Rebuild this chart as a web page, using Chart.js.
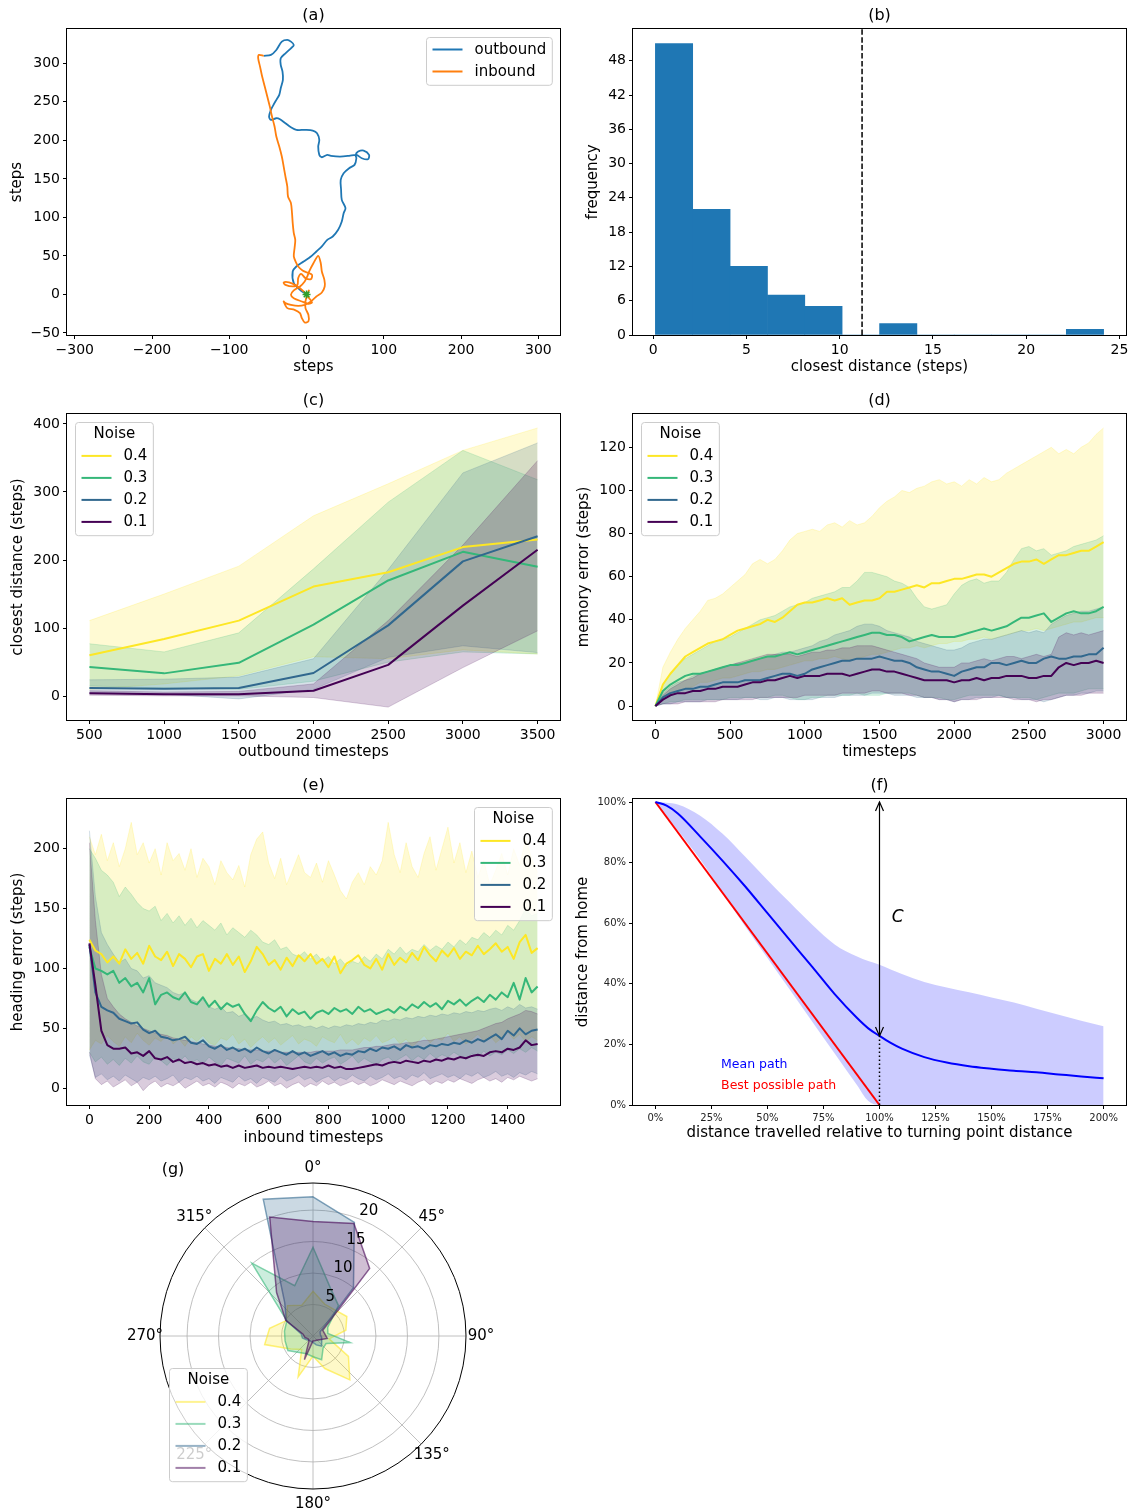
<!DOCTYPE html>
<html>
<head>
<meta charset="utf-8">
<script src="https://cdn.jsdelivr.net/npm/chart.js@4.4.1/dist/chart.umd.min.js"></script>
<style>
  html, body { margin: 0; padding: 0; background: #fff; }
  #fig { position: relative; width: 1134px; height: 1512px; background: #fff; }
  #fig canvas { position: absolute; }
</style>
</head>
<body>
<div id="fig">
  <canvas id="ca" width="567" height="385" style="left:0;top:0;width:567px;height:385px"></canvas>
  <canvas id="cb" width="567" height="385" style="left:567px;top:0;width:567px;height:385px"></canvas>
  <canvas id="cc" width="567" height="385" style="left:0;top:385px;width:567px;height:385px"></canvas>
  <canvas id="cd" width="567" height="385" style="left:567px;top:385px;width:567px;height:385px"></canvas>
  <canvas id="ce" width="567" height="385" style="left:0;top:770px;width:567px;height:385px"></canvas>
  <canvas id="cf" width="567" height="385" style="left:567px;top:770px;width:567px;height:385px"></canvas>
  <canvas id="cg" width="386" height="362" style="left:120px;top:1150px;width:386px;height:362px"></canvas>
</div>
<script>
// ---------------- (a) one foraging trip ----------------
const outboundX = [0,-8.5,-16.5,-17.9,-13.2,-3.8,5.6,12.7,19.8,26.8,33.9,40.9,45.6,48.0,50.4,45.6,44.7,44.2,48.0,55.1,
  62.1,64.5,63.5,66.8,73.9,80.9,79.5,71.5,64.5,55.1,43.3,31.5,26.8,19.8,16.5,15.1,16.5,13.6,8.0,-1.4,
  -13.2,-20.2,-27.3,-34.4,-39.1,-46.1,-48.5,-46.1,-42.8,-39.1,-35.3,-33.4,-30.6,-31.1,-33.4,-33.4,-27.3,-20.2,-16.5,-20.2,
  -24.9,-32.0,-39.1,-46.1,-55.5];
const outboundY = [0,6.1,14.7,29.8,36.3,42.8,49.3,55.8,62.3,70.9,75.2,83.9,94.7,105.5,112.0,122.8,135.8,148.7,157.4,163.9,
  168.2,176.8,181.1,185.5,186.8,181.1,175.5,176.8,181.1,179.9,179.0,179.9,181.1,178.1,181.1,192.0,200.6,209.3,212.7,213.6,
  213.6,217.0,222.2,227.4,228.7,226.5,230.9,239.5,246.0,252.5,259.0,267.6,278.4,289.2,297.9,306.5,313.0,319.5,323.8,328.1,
  330.3,328.1,317.3,310.9,309.6];
const inboundX = [-55.5,-61.6,-62.6,-60.2,-57.9,-54.1,-50.8,-47.5,-44.7,-41.4,-39.1,-35.3,-32.0,-29.6,-27.3,-24.9,-24.0,-20.2,-18.8,-17.9,
  -16.5,-14.6,-15.5,-16.5,-13.2,-10.8,-5.2,0.9,7.1,5.6,-1.4,-7.1,-10.8,-11.8,-17.9,-27.3,-29.6,-22.6,-13.2,-3.8,
  3.3,7.1,2.4,-6.1,-16.5,-20.2,-16.5,-8.5,-2.4,0.9,3.3,8.9,15.1,18.4,19.8,23.1,23.5,19.8,12.7,5.6,
  -2.4,-10.8,-20.2,-27.3,-29.6,-24.9,-15.5,-8.5,-6.1,-2.4,2.4,2.4,-1.4,-1.4,0.9,3.3];
const inboundY = [309.6,310.9,306.5,295.7,284.9,269.8,256.8,243.8,230.9,217.9,204.9,192.0,179.0,166.0,153.0,140.1,127.1,118.5,105.5,92.5,
  79.5,70.9,60.1,49.3,40.6,36.3,31.1,28.5,25.5,19.9,21.2,26.8,21.2,12.5,10.4,12.5,15.6,15.6,11.2,3.9,
  -4.8,-10.4,-12.1,-9.1,-4.8,-0.4,5.2,10.4,16.9,23.3,29.8,40.6,50.2,40.6,29.8,19.0,10.4,2.6,-2.6,-9.1,
  -13.4,-14.7,-13.4,-11.2,-9.1,-17.7,-19.9,-24.2,-30.7,-36.3,-35.0,-26.4,-17.7,-9.1,-0.4,6.1];
const homeX = 0, homeY = 0;
const aTicksX = [-300,-200,-100,0,100,200,300];
const aTicksY = [-50,0,50,100,150,200,250,300];

// ---------------- (b) closest approach histogram ----------------
const histEdges = [0.12,2.12,4.13,6.13,8.13,10.13,12.14,14.14,16.14,18.14,20.15,22.15,24.15];
const histCounts = [51,22,12,7,5,0,2,0,0,0,0,1];
const histThreshold = 11.2;
const bTicksX = [0,5,10,15,20,25];
const bTicksY = [0,6,12,18,24,30,36,42,48];

// ---------------- (c) closest distance vs outbound length ----------------
const cSteps = [500,1000,1500,2000,2500,3000,3500];
const c04Mean = [60,84,111,161,182,219,230];
const c04Up   = [111,150,191,265,312,361,394];
const c04Lo   = [10,18,30,58,55,68,62];
const c03Mean = [43,33.5,49,105,170,212,190];
const c03Up   = [77,65,93,187,285,361,318];
const c03Lo   = [15,12,10,22,50,65,62];
const c02Mean = [12,11,12,34,104,198,235];
const c02Up   = [24,25,28,55,186,328,372];
const c02Lo   = [5,3,-4,10,57,74,64];
const c01Mean = [4.4,3,3,8,46,133,215];
const c01Up   = [8,6,7,18,111,222,346];
const c01Lo   = [1.5,0.5,0.5,-2,-16,42,96];
const cTicksX = [500,1000,1500,2000,2500,3000,3500];
const cTicksY = [0,100,200,300,400];

// ---------------- (d) memory error over the outbound route ----------------
const dSteps = [0,50,100,150,200,250,300,350,400,450,
  500,550,600,650,700,750,800,850,900,950,
  1000,1050,1100,1150,1200,1250,1300,1350,1400,1450,
  1500,1550,1600,1650,1700,1750,1800,1850,1900,1950,
  2000,2050,2100,2150,2200,2250,2300,2350,2400,2450,
  2500,2550,2600,2650,2700,2750,2800,2850,2900,2950,3000];
const d04Mean = [0,10,15,19,23,25,27,29,30,31, 33,35,36,37,38,40,39,41,44,47, 48,48,49,50,49,50,47,48,49,49,
  50,53,53,54,55,56,55,57,57,58, 59,59,60,61,61,60,62,64,66,67, 67,68,66,68,70,70,71,72,72,74, 76];
const d04Up = [0,18,25,31,36,40,44,49,50,52, 55,58,61,66,68,66,68,72,77,80, 81,82,81,84,85,83,86,84,85,88,
  92,95,97,100,99,101,102,104,105,103, 104,102,105,103,106,104,105,108,110,112, 114,116,118,120,117,119,117,120,122,126, 129];
const d04Lo = [0,4,6,7,8,9,11,11,12,13, 13,14,15,16,16,17,17,18,19,20, 21,21,22,22,23,22,21,22,23,24,
  24,25,26,27,27,28,27,28,29,29, 30,30,31,31,32,31,32,33,34,35, 35,36,35,36,37,38,39,39,40,41, 41];
const d03Mean = [0,7,10,12,14,15,15,16,17,18, 19,19,20,21,22,23,23,24,25,24, 25,26,27,28,29,30,31,32,33,34,
  34,33,33,32,30,31,32,33,32,32, 32,33,34,35,36,35,36,37,39,41, 41,42,43,39,41,43,44,43,43,44, 46];
const d03Up = [0,10,15,19,22,24,26,28,30,31, 32,34,36,38,40,41,42,44,46,47, 48,50,51,52,53,55,55,58,62,62,
  61,60,58,57,55,50,46,45,46,47, 52,56,58,59,57,58,58,62,68,73, 74,72,73,70,71,72,74,75,76,77, 79];
const d03Lo = [0,1,2,2,3,3,3,3,3,3, 4,4,4,4,4,4,5,5,4,3, 3,4,4,5,5,5,5,6,5,5,
  5,6,6,6,6,5,4,4,4,3, 3,4,5,5,5,5,5,4,4,4, 4,3,4,5,6,6,6,7,8,8, 8];
const d02Mean = [0,4,6,7,8,8,9,9,10,11, 11,11,12,12,12,13,14,15,15,14, 15,17,18,19,20,21,21,22,22,22,
  23,22,21,21,20,18,17,16,16,15, 14,16,17,18,18,20,20,19,20,21, 20,20,22,23,22,22,23,23,24,24, 27];
const d02Up = [0,6,9,11,12,14,15,16,17,18, 19,20,20,21,22,23,24,25,25,26, 27,28,30,31,33,34,35,37,38,38,
  37,35,34,33,32,30,29,28,27,26, 26,27,29,30,31,31,32,33,34,35, 34,35,34,38,40,42,43,44,44,45, 46];
const d02Lo = [0,1,1,2,2,2,2,3,3,3, 3,3,4,4,3,3,4,4,3,3, 3,3,4,4,4,5,5,5,5,6,
  6,6,5,5,5,4,4,4,3,3, 2,3,3,4,4,4,5,4,4,3, 3,3,2,3,4,5,5,6,6,7, 7];
const d01Mean = [0,3,5,6,6,7,7,8,8,9, 9,9,10,11,11,12,12,13,14,13, 14,14,14,15,15,15,14,15,16,17,
  17,16,16,15,14,13,12,12,12,12, 11,12,12,13,12,13,13,14,14,14, 13,13,14,14,18,20,19,20,20,21, 20];
const d01Up = [0,5,8,10,12,13,15,16,17,18, 19,20,21,22,23,24,24,24,24,23, 24,25,25,26,26,27,27,28,28,28,
  27,26,25,24,23,22,20,19,18,18, 18,20,20,21,22,21,22,23,23,22, 23,24,23,24,32,34,33,34,33,34, 35];
const d01Lo = [0,1,1,1,2,2,2,2,2,3, 3,3,3,3,4,4,4,4,4,4, 5,5,5,5,5,6,6,6,6,7,
  7,6,6,6,5,5,4,4,3,3, 2,3,3,3,4,4,4,4,3,3, 3,2,3,3,4,5,5,5,6,6, 6];
const dTicksX = [0,500,1000,1500,2000,2500,3000];
const dTicksY = [0,20,40,60,80,100,120];

// ---------------- (e) heading error on the inbound route ----------------
const eSteps = [0,20,40,60,80,100,120,140,160,180,
  200,220,240,260,280,300,320,340,360,380,
  400,420,440,460,480,500,520,540,560,580,
  600,620,640,660,680,700,720,740,760,780,
  800,820,840,860,880,900,920,940,960,980,
  1000,1020,1040,1060,1080,1100,1120,1140,1160,1180,
  1200,1220,1240,1260,1280,1300,1320,1340,1360,1380,
  1400,1420,1440,1460,1480,1500];
const e04Mean = [124,115,112,105,110,104,116,108,113,104, 119,110,107,114,102,112,108,101,110,112,
  98,108,104,112,103,110,97,106,118,112, 103,107,99,109,102,111,106,112,104,108,
  101,110,96,104,107,111,103,100,108,99, 112,103,109,105,113,107,118,111,106,115,
  110,117,108,114,111,119,112,116,121,114, 118,108,122,128,113,117];
const e04Up = [210,195,212,190,205,185,200,222,195,205, 188,200,178,205,190,196,182,200,176,192,
  185,170,190,180,174,186,168,195,208,214, 188,175,192,170,182,195,180,176,188,172,
  190,178,165,158,172,180,170,185,178,190, 222,195,180,205,185,176,196,210,182,200,
  218,188,205,180,198,176,190,170,182,196, 178,200,186,208,192,180];
const e04Lo = [32,40,37,44,39,35,43,38,46,40, 36,42,39,45,37,41,35,43,39,44,
  38,36,42,40,45,37,41,34,39,43, 38,42,36,40,44,37,41,39,35,43,
  40,38,45,37,41,36,42,39,44,38, 40,43,37,41,35,39,44,38,42,40,
  46,39,43,37,41,45,40,44,38,42, 47,41,45,39,43,40];
const e03Mean = [118,100,98,95,98,88,92,85,88,80, 92,70,78,80,76,74,80,72,70,76,
  68,73,66,71,68,70,62,56,65,72, 67,64,68,60,66,62,64,58,63,65,
  62,67,64,66,62,68,64,66,62,64, 66,63,68,65,70,67,72,68,71,66,
  73,70,74,69,73,76,72,78,74,80, 76,88,74,92,80,85];
const e03Up = [200,192,182,178,172,160,168,162,155,150, 148,152,140,146,138,144,136,142,134,140,
  136,132,138,128,134,130,126,132,128,122, 120,124,116,118,112,110,114,108,112,106,
  110,104,108,102,106,104,110,106,112,108, 116,112,118,112,116,114,120,115,119,116,
  122,118,124,120,126,124,130,126,132,128, 136,132,140,150,144,146];
const e03Lo = [30,22,26,20,24,19,25,21,27,22, 20,26,23,19,25,22,27,21,24,20,
  26,22,19,25,23,21,27,20,24,22, 26,21,25,19,23,27,22,20,25,21,
  24,26,20,23,27,21,25,22,19,24, 26,22,25,28,23,27,24,29,25,28,
  26,30,27,24,29,26,31,27,30,28, 32,29,33,30,34,31];
const e02Mean = [120,80,68,65,63,58,56,54,55,49, 46,48,43,42,40,41,43,38,37,40,
  35,33,36,32,34,31,33,30,34,31, 29,32,30,28,31,28,30,27,29,31,
  28,30,27,29,28,31,30,33,31,34, 33,35,32,36,34,35,33,36,35,37,
  36,38,37,40,38,41,39,42,45,41, 48,44,50,45,48,49];
const e02Up = [215,160,130,120,112,105,108,100,98,92, 94,88,86,84,80,78,80,74,72,74,
  68,66,68,63,64,60,62,58,60,57, 55,56,53,54,52,53,51,52,50,52,
  50,52,51,53,52,54,53,55,54,57, 56,58,57,59,58,60,59,61,60,62,
  61,63,62,64,63,65,64,66,67,65, 68,66,70,67,68,66];
const e02Lo = [28,9,12,7,10,6,11,8,5,9, 7,10,6,8,11,5,9,7,10,6,
  8,4,9,7,5,10,6,8,4,9, 7,5,10,6,8,11,7,9,5,8,
  10,6,9,7,11,8,6,10,7,9, 12,8,10,7,11,9,13,8,10,12,
  9,11,8,12,10,13,9,11,14,10, 12,9,13,11,14,12];
const e01Mean = [121,86,48,36,33,33,34,29,30,27, 31,25,24,26,22,24,21,22,20,21,
  19,20,18,19,17,19,17,18,19,17, 18,17,18,17,16,17,18,17,18,17,
  19,17,18,16,16,17,18,19,20,19, 21,22,21,23,22,21,23,22,24,23,
  25,24,26,25,27,28,27,30,31,30, 33,32,34,40,36,37];
const e01Up = [205,140,95,75,68,62,58,55,52,50, 48,46,45,44,42,41,40,39,38,37,
  36,35,35,34,33,33,32,32,32,31, 31,31,30,30,30,30,30,30,31,31,
  31,31,32,32,32,33,34,34,35,35, 36,37,37,38,38,39,40,40,41,42,
  43,44,45,46,47,48,50,52,54,55, 58,60,62,65,64,62];
const e01Lo = [30,8,3,6,1,4,7,2,5,-2, 3,6,1,4,2,5,0,3,6,2,
  4,1,5,3,0,4,2,5,1,3, 6,2,4,0,3,5,1,4,2,6,
  3,5,2,4,6,3,5,2,4,7, 5,3,6,4,2,5,7,3,6,4,
  7,5,8,6,4,7,9,6,8,5, 9,7,10,8,6,8];
const eTicksX = [0,200,400,600,800,1000,1200,1400];
const eTicksY = [0,50,100,150,200];

// ---------------- (f) distance from home along the return ----------------
const fTravel = [0,5,10,20,30,40,50,60,70,80,90,95,100,105,110,120,130,140,150,160,170,180,190,200];
const fMean   = [100,98.8,96.2,88.6,80.6,72.2,63.3,54.4,45.6,36.6,28.7,25.3,22.8,20.5,18.6,15.8,14.0,12.8,12.0,11.3,10.8,10.1,9.4,8.8];
const fUpper  = [100,99.8,99.2,95.5,89.5,82,74.3,66.8,59.5,53,49,47.5,46.3,44.7,43.2,40.6,38.8,37.2,35.5,33.8,31.8,29.8,27.8,26];
const fLower  = [100,95.2,90.6,81,70,59,48.5,38,27.5,17,6.5,1.3,0,0,0,0,0,0,0,0,0,0,0,0];
const bestTravel = [0,100];
const bestDist   = [100,0];
const turnPoint = 100;
const fTicksX = [0,25,50,75,100,125,150,175,200];
const fTicksY = [0,20,40,60,80,100];

// ---------------- (g) heading distribution ----------------
const polarLabels = ['0°','20°','40°','60°','80°','100°','120°','140°','160°','180°','200°','220°','240°','260°','280°','300°','320°','340°'];
const g04 = [7.1,5.4,5.4,6.2,5.3,2.6,6.5,9.1,5.5,3.2,6.9,2.8,4.1,7.8,7.0,4.9,6.3,5.2];
const g03 = [14.1,8.1,6.3,2.7,2.4,6.0,2.4,2.5,4.0,3.3,3.0,3.4,4.6,4.5,4.6,4.8,15.1,8.5];
const g02 = [22.1,19.2,10.0,1.3,1.2,1.4,1.6,2.1,1.5,1.0,0.9,0.9,1.2,1.7,1.9,4.9,7.0,23.1];
const g01 = [18.2,19.0,14.0,1.8,1.9,2.3,1.2,0.9,0.8,0.8,4.0,1.0,0.9,1.3,1.6,5.0,9.0,20.1];
const angleTicks = [0,45,90,135,180,225,270,315];

const noiseLevels = ['0.4','0.3','0.2','0.1'];
const noiseColors = ['#fde725','#35b779','#31688e','#440154'];

// ---------------- helpers ----------------
const FONT = "'DejaVu Sans', 'Liberation Sans', sans-serif";
Chart.defaults.font.family = FONT;
Chart.defaults.color = '#000';

function rgba(hex, a) {
  const n = parseInt(hex.slice(1), 16);
  return 'rgba(' + ((n >> 16) & 255) + ',' + ((n >> 8) & 255) + ',' + (n & 255) + ',' + a + ')';
}
function pts(xs, ys) { return xs.map((x, i) => ({ x: x, y: ys[i] })); }
function signed(v) { return (v < 0 ? '\u2212' : '') + Math.abs(v); }
function pct(v) { return v + '%'; }

function axis(o) {
  return {
    type: 'linear', min: o.min, max: o.max,
    offset: false,
    afterBuildTicks: s => { s.ticks = o.ticks.map(v => ({ value: v })); },
    afterFit: s => { if (s.isHorizontal()) s.height = o.size; else s.width = o.size; },
    border: { display: false },
    grid: { display: true, offset: false, drawOnChartArea: false, drawTicks: true, tickLength: 4, tickWidth: 1, color: '#000' },
    ticks: { autoSkip: false, maxRotation: 0, minRotation: 0, padding: 3,
             color: o.tickColor || '#000', font: { size: o.tick || 14 }, callback: o.fmt || signed },
    title: { display: true, text: o.title, color: '#000', font: { size: 15 }, padding: { top: o.tp, bottom: o.tp } }
  };
}

function baseOptions(pad, scales, plugins) {
  return {
    responsive: false, animation: false, devicePixelRatio: 1, events: [],
    layout: { autoPadding: false, padding: pad },
    scales: scales,
    elements: { point: { radius: 0 }, line: { borderJoinStyle: 'round' } },
    plugins: Object.assign({ legend: { display: false }, tooltip: { enabled: false } }, plugins)
  };
}

// mean line plus shaded spread for each noise level; the first level sits lowest
function bandSets(xs, levels) {
  const sets = [];
  levels.forEach((lv, k) => {
    const ord = levels.length - k;
    const base = sets.length;
    sets.push({ data: pts(xs, lv.up), fill: base + 1, backgroundColor: rgba(lv.color, 0.2),
                borderColor: rgba(lv.color, 0.2), borderWidth: 1, order: ord + 10 });
    sets.push({ data: pts(xs, lv.lo), fill: false, borderColor: rgba(lv.color, 0.2), borderWidth: 1, order: ord + 10 });
    sets.push({ data: pts(xs, lv.mean), fill: false, borderColor: lv.color, borderWidth: 2, order: ord });
  });
  return sets;
}

const noiseItems = noiseLevels.map((l, i) => ({ label: l, color: noiseColors[i] }));

// ---------------- plugins ----------------
const frame = {
  id: 'frame',
  afterDatasetsDraw(chart) {
    if (chart.config.type === 'radar') return;
    const ctx = chart.ctx, a = chart.chartArea;
    ctx.save();
    ctx.strokeStyle = '#000'; ctx.lineWidth = 1;
    ctx.strokeRect(Math.round(a.left) - 0.5, Math.round(a.top) - 0.5, Math.round(a.right - a.left) + 1, Math.round(a.bottom - a.top) + 1);
    ctx.restore();
  }
};

const ptitle = {
  id: 'ptitle',
  afterDraw(chart, args, o) {
    if (!o || !o.text) return;
    const ctx = chart.ctx, a = chart.chartArea;
    ctx.save();
    ctx.font = '16px ' + FONT; ctx.fillStyle = '#000';
    ctx.textAlign = 'center'; ctx.textBaseline = 'middle';
    const x = (o.x !== undefined) ? o.x : (a.left + a.right) / 2;
    const y = (o.y !== undefined) ? o.y : a.top - 13;
    ctx.fillText(o.text, x, y);
    ctx.restore();
  }
};

const mplLegend = {
  id: 'mplLegend',
  afterDraw(chart, args, o) {
    if (!o || !o.items || !o.items.length) return;
    const ctx = chart.ctx, a = chart.chartArea, row = 22;
    ctx.save();
    ctx.font = '15px ' + FONT;
    let tw = 0;
    o.items.forEach(it => { tw = Math.max(tw, ctx.measureText(it.label).width); });
    const w = Math.max(48 + tw + 6, o.title ? ctx.measureText(o.title).width + 12 : 0);
    const first = o.title ? 33.4 : 12;
    const h = first + row * (o.items.length - 1) + 13.8;
    let left, top;
    if (o.loc === 'abs') { left = o.x; top = o.y; }
    else { top = a.top + 8; left = (o.loc === 'ur') ? a.right - 8 - w : a.left + 8; }
    left = Math.round(left) + 0.5; top = Math.round(top) + 0.5;
    const r = 3;
    ctx.beginPath();
    ctx.moveTo(left + r, top);
    ctx.lineTo(left + w - r, top); ctx.arcTo(left + w, top, left + w, top + r, r);
    ctx.lineTo(left + w, top + h - r); ctx.arcTo(left + w, top + h, left + w - r, top + h, r);
    ctx.lineTo(left + r, top + h); ctx.arcTo(left, top + h, left, top + h - r, r);
    ctx.lineTo(left, top + r); ctx.arcTo(left, top, left + r, top, r);
    ctx.closePath();
    ctx.fillStyle = 'rgba(255,255,255,0.8)'; ctx.fill();
    ctx.strokeStyle = '#cccccc'; ctx.lineWidth = 1; ctx.stroke();
    ctx.textBaseline = 'middle'; ctx.fillStyle = '#000';
    if (o.title) { ctx.textAlign = 'center'; ctx.fillText(o.title, left + w / 2, top + 11.5); }
    ctx.textAlign = 'left';
    o.items.forEach((it, i) => {
      const y = top + first + row * i;
      ctx.strokeStyle = rgba(it.color, o.alpha || 1); ctx.lineWidth = 2;
      ctx.beginPath(); ctx.moveTo(left + 6, y); ctx.lineTo(left + 36, y); ctx.stroke();
      ctx.fillStyle = '#000';
      ctx.fillText(it.label, left + 48, y + 0.5);
    });
    ctx.restore();
  }
};

Chart.register(frame, ptitle, mplLegend);

const LEFT = { top: 29, right: 7, bottom: 0, left: 0 };
const RIGHT = { top: 29, right: 8, bottom: 0, left: 0 };

// ---------------- (a) ----------------
new Chart(document.getElementById('ca'), {
  type: 'line',
  data: { datasets: [
    { label: 'outbound', data: pts(outboundX, outboundY), borderColor: '#1f77b4', borderWidth: 1.8, tension: 0.3, order: 2 },
    { label: 'inbound', data: pts(inboundX, inboundY), borderColor: '#ff7f0e', borderWidth: 1.8, tension: 0.3, order: 1 },
    { label: 'home', data: [{ x: homeX, y: homeY }], showLine: false, pointStyle: 'star', pointRadius: 4,
      borderColor: '#2ca02c', borderWidth: 1.5, order: 0 }
  ]},
  options: baseOptions(LEFT, {
    x: axis({ min: -310, max: 328, ticks: aTicksX, size: 50, title: 'steps', tp: 9 }),
    y: axis({ min: -52.6, max: 344.5, ticks: aTicksY, size: 67, title: 'steps', tp: 8 })
  }, {
    ptitle: { text: '(a)' },
    mplLegend: { loc: 'ur', items: [{ label: 'outbound', color: '#1f77b4' }, { label: 'inbound', color: '#ff7f0e' }] }
  })
});

// ---------------- (b) ----------------
const thresholdLine = {
  id: 'thresholdLine',
  afterDatasetsDraw(chart) {
    const ctx = chart.ctx, a = chart.chartArea;
    const x = chart.scales.x.getPixelForValue(histThreshold);
    ctx.save();
    ctx.strokeStyle = '#000'; ctx.lineWidth = 1.5; ctx.setLineDash([5.5, 2.4]);
    ctx.beginPath(); ctx.moveTo(x, a.bottom); ctx.lineTo(x, a.top); ctx.stroke();
    ctx.restore();
  }
};
new Chart(document.getElementById('cb'), {
  type: 'bar',
  data: { datasets: [{
    data: histCounts.map((c, i) => ({ x: (histEdges[i] + histEdges[i + 1]) / 2, y: c })),
    backgroundColor: '#1f77b4', borderWidth: 0, barPercentage: 1, categoryPercentage: 1
  }]},
  options: baseOptions(RIGHT, {
    x: axis({ min: -1.08, max: 25.35, ticks: bTicksX, size: 50, title: 'closest distance (steps)', tp: 9 }),
    y: axis({ min: 0, max: 53.55, ticks: bTicksY, size: 66, title: 'frequency', tp: 17 })
  }, { ptitle: { text: '(b)' } }),
  plugins: [thresholdLine]
});

// ---------------- (c) ----------------
new Chart(document.getElementById('cc'), {
  type: 'line',
  data: { datasets: bandSets(cSteps, [
    { color: noiseColors[0], mean: c04Mean, up: c04Up, lo: c04Lo },
    { color: noiseColors[1], mean: c03Mean, up: c03Up, lo: c03Lo },
    { color: noiseColors[2], mean: c02Mean, up: c02Up, lo: c02Lo },
    { color: noiseColors[3], mean: c01Mean, up: c01Up, lo: c01Lo }
  ])},
  options: baseOptions(LEFT, {
    x: axis({ min: 350, max: 3650, ticks: cTicksX, size: 50, title: 'outbound timesteps', tp: 9 }),
    y: axis({ min: -35, max: 414.5, ticks: cTicksY, size: 67, title: 'closest distance (steps)', tp: 9 })
  }, {
    ptitle: { text: '(c)' },
    mplLegend: { loc: 'ul', title: 'Noise', items: noiseItems }
  })
});

// ---------------- (d) ----------------
new Chart(document.getElementById('cd'), {
  type: 'line',
  data: { datasets: bandSets(dSteps, [
    { color: noiseColors[0], mean: d04Mean, up: d04Up, lo: d04Lo },
    { color: noiseColors[1], mean: d03Mean, up: d03Up, lo: d03Lo },
    { color: noiseColors[2], mean: d02Mean, up: d02Up, lo: d02Lo },
    { color: noiseColors[3], mean: d01Mean, up: d01Up, lo: d01Lo }
  ])},
  options: baseOptions(RIGHT, {
    x: axis({ min: -150, max: 3150, ticks: dTicksX, size: 50, title: 'timesteps', tp: 9 }),
    y: axis({ min: -6.45, max: 135.45, ticks: dTicksY, size: 66, title: 'memory error (steps)', tp: 8 })
  }, {
    ptitle: { text: '(d)' },
    mplLegend: { loc: 'ul', title: 'Noise', items: noiseItems }
  })
});

// ---------------- (e) ----------------
new Chart(document.getElementById('ce'), {
  type: 'line',
  data: { datasets: bandSets(eSteps, [
    { color: noiseColors[0], mean: e04Mean, up: e04Up, lo: e04Lo },
    { color: noiseColors[1], mean: e03Mean, up: e03Up, lo: e03Lo },
    { color: noiseColors[2], mean: e02Mean, up: e02Up, lo: e02Lo },
    { color: noiseColors[3], mean: e01Mean, up: e01Up, lo: e01Lo }
  ])},
  options: baseOptions(LEFT, {
    x: axis({ min: -75, max: 1575, ticks: eTicksX, size: 50, title: 'inbound timesteps', tp: 8 }),
    y: axis({ min: -14, max: 241.5, ticks: eTicksY, size: 67, title: 'heading error (steps)', tp: 9 })
  }, {
    ptitle: { text: '(e)' },
    mplLegend: { loc: 'ur', title: 'Noise', items: noiseItems }
  })
});

// ---------------- (f) ----------------
const returnNotes = {
  id: 'returnNotes',
  afterDatasetsDraw(chart) {
    const ctx = chart.ctx, sx = chart.scales.x, sy = chart.scales.y;
    const meanAtTurn = fMean[fTravel.indexOf(turnPoint)];
    const x = sx.getPixelForValue(turnPoint);
    const y0 = sy.getPixelForValue(0), yM = sy.getPixelForValue(meanAtTurn), yT = sy.getPixelForValue(100);
    ctx.save();
    ctx.strokeStyle = '#000';
    ctx.lineWidth = 1.5; ctx.setLineDash([1.5, 2.5]);
    ctx.beginPath(); ctx.moveTo(x, y0); ctx.lineTo(x, yM); ctx.stroke();
    ctx.setLineDash([]); ctx.lineWidth = 1.2;
    ctx.beginPath(); ctx.moveTo(x, yM); ctx.lineTo(x, yT); ctx.stroke();
    const head = (tipY, dir) => {
      ctx.beginPath();
      ctx.moveTo(x - 4, tipY + dir * 9); ctx.lineTo(x, tipY); ctx.lineTo(x + 4, tipY + dir * 9);
      ctx.stroke();
    };
    head(yT, 1); head(yM, -1);
    ctx.fillStyle = '#000'; ctx.textBaseline = 'middle'; ctx.textAlign = 'left';
    ctx.font = 'italic 17px ' + FONT;
    ctx.fillText('C', sx.getPixelForValue(105.5), sy.getPixelForValue(61.7));
    ctx.font = '12.5px ' + FONT;
    ctx.fillStyle = '#0000ff';
    ctx.fillText('Mean path', sx.getPixelForValue(29.3), sy.getPixelForValue(13.2));
    ctx.fillStyle = '#ff0000';
    ctx.fillText('Best possible path', sx.getPixelForValue(29.3), sy.getPixelForValue(6.3));
    ctx.restore();
  }
};
new Chart(document.getElementById('cf'), {
  type: 'line',
  data: { datasets: [
    { data: pts(fTravel, fUpper), fill: 1, backgroundColor: 'rgba(0,0,255,0.2)', borderWidth: 0, cubicInterpolationMode: 'monotone', order: 3 },
    { data: pts(fTravel, fLower), fill: false, borderWidth: 0, borderColor: 'rgba(0,0,0,0)', cubicInterpolationMode: 'monotone', order: 3 },
    { data: pts(bestTravel, bestDist), borderColor: '#ff0000', borderWidth: 2, order: 2 },
    { data: pts(fTravel, fMean), borderColor: '#0000ff', borderWidth: 2, cubicInterpolationMode: 'monotone', order: 1 }
  ]},
  options: baseOptions(RIGHT, {
    x: axis({ min: -10, max: 210, ticks: fTicksX, size: 50, tick: 10, tickColor: '#222', title: 'distance travelled relative to turning point distance', tp: 13, fmt: pct }),
    y: axis({ min: 0, max: 101, ticks: fTicksY, size: 66, tick: 10, tickColor: '#222', title: 'distance from home', tp: 7, fmt: pct })
  }, { ptitle: { text: '(f)' } }),
  plugins: [returnNotes]
});

// ---------------- (g) ----------------
const polarDecor = {
  id: 'polarDecor',
  beforeDatasetsDraw(chart) {
    const r = chart.scales.r, ctx = chart.ctx, R = r.drawingArea;
    ctx.save();
    ctx.strokeStyle = '#b0b0b0'; ctx.lineWidth = 0.8;
    angleTicks.forEach(d => {
      const t = d * Math.PI / 180;
      ctx.beginPath();
      ctx.moveTo(r.xCenter, r.yCenter);
      ctx.lineTo(r.xCenter + R * Math.sin(t), r.yCenter - R * Math.cos(t));
      ctx.stroke();
    });
    ctx.restore();
  },
  afterDatasetsDraw(chart) {
    const r = chart.scales.r, ctx = chart.ctx, R = r.drawingArea;
    ctx.save();
    ctx.strokeStyle = '#000'; ctx.lineWidth = 1;
    ctx.beginPath(); ctx.arc(r.xCenter, r.yCenter, R, 0, Math.PI * 2); ctx.stroke();
    ctx.font = '15px ' + FONT; ctx.fillStyle = '#000';
    ctx.textAlign = 'center'; ctx.textBaseline = 'middle';
    angleTicks.forEach(d => {
      const t = d * Math.PI / 180, L = R + 15;
      ctx.fillText(d + '°', r.xCenter + L * Math.sin(t), r.yCenter - L * Math.cos(t));
    });
    const t = 24 * Math.PI / 180;
    r.ticks.forEach(tk => {
      if (tk.value <= 0) return;
      const L = r.getDistanceFromCenterForValue(tk.value) + 11;
      ctx.fillText(String(tk.value), r.xCenter + L * Math.sin(t), r.yCenter - L * Math.cos(t));
    });
    ctx.restore();
  }
};
const gSeries = [g04, g03, g02, g01];
new Chart(document.getElementById('cg'), {
  type: 'radar',
  data: {
    labels: polarLabels,
    datasets: gSeries.map((vals, i) => ({
      label: noiseLevels[i], data: vals, fill: true,
      borderColor: rgba(noiseColors[i], 0.6), backgroundColor: rgba(noiseColors[i], 0.25),
      borderWidth: 1.5, pointRadius: 0, order: 4 - i
    }))
  },
  options: {
    responsive: false, animation: false, devicePixelRatio: 1, events: [],
    layout: { padding: { left: 40, top: 33, right: 40, bottom: 23 } },
    scales: { r: {
      min: 0, max: 24.3, startAngle: 0,
      ticks: { display: false, stepSize: 5, includeBounds: false },
      grid: { circular: true, color: '#b0b0b0', lineWidth: 0.8 },
      angleLines: { display: false },
      pointLabels: { display: false }
    }},
    plugins: {
      legend: { display: false }, tooltip: { enabled: false },
      ptitle: { text: '(g)', x: 53, y: 20 },
      mplLegend: { loc: 'abs', x: 49, y: 218, title: 'Noise', alpha: 0.5, items: noiseItems }
    }
  },
  plugins: [polarDecor]
});
</script>
</body>
</html>
